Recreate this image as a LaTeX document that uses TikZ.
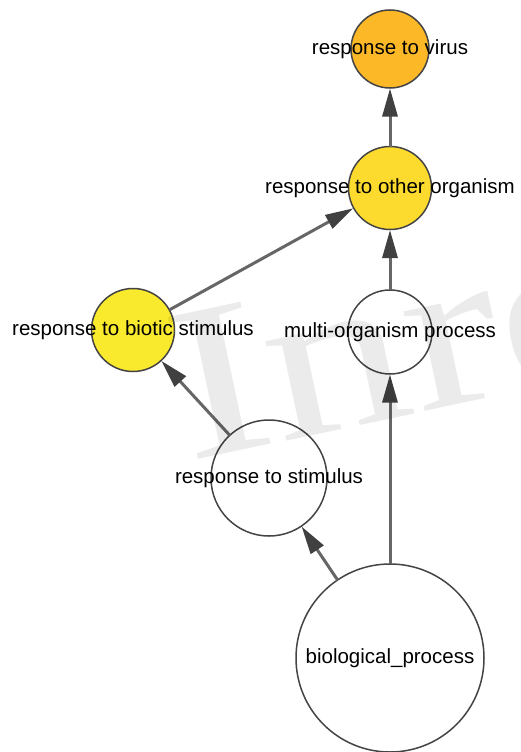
\documentclass[tikz,border=0pt]{standalone}
\usepackage{fontspec}
\usepackage{graphicx}
\setmainfont{Liberation Sans}
\newfontfamily\wmfont{Liberation Serif}
\usetikzlibrary{arrows.meta}
\definecolor{virusfill}{RGB}{253,184,40}
\definecolor{otherfill}{RGB}{253,218,46}
\definecolor{bioticfill}{RGB}{250,234,45}
\definecolor{ringcol}{RGB}{68,68,68}
\definecolor{edgecol}{RGB}{102,102,102}
\definecolor{tipcol}{RGB}{64,64,64}
\tikzset{
  term/.style={circle, draw=ringcol, line width=1.5pt, inner sep=0pt, outer sep=0pt},
  lbl/.style={font=\fontsize{20.5}{24}\selectfont, text=black, inner sep=0pt},
  isa/.style={draw=edgecol, line width=3pt, -{Triangle[length=28pt,width=15pt,color=tipcol]}, shorten >=0.5pt},
  watermark/.style={anchor=base west, rotate=12, text=black, text opacity=0.08, inner sep=0pt,
      font=\wmfont\fontsize{270}{270}\selectfont},
}
\begin{document}
\begin{tikzpicture}[x=1pt,y=-1pt]
\useasboundingbox (0,0) rectangle (520,752);
\clip (0,0) rectangle (520,752);
\fill[white] (0,0) rectangle (520,752);
% terms
\node[term, fill=virusfill, minimum size=78pt] (v) at (390,49) {};
\node[term, fill=otherfill, minimum size=83pt] (o) at (390,188) {};
\node[term, fill=bioticfill, minimum size=83pt] (b) at (133,330) {};
\node[term, fill=white, minimum size=84pt] (m) at (390,332) {};
\node[term, fill=white, minimum size=116pt] (s) at (269,478) {};
\node[term, fill=white, minimum size=188pt] (p) at (390,658) {};
% edges
\draw[isa] (o) -- (v);
\draw[isa] (b) -- (o);
\draw[isa] (m) -- (o);
\draw[isa] (s) -- (b);
\draw[isa] (p) -- (s);
\draw[isa] (p) -- (m);
% labels
\node[lbl] (vl) at (v) {response to virus};
\node[lbl] (ol) at (o) {response to other organism};
\node[lbl] (bl) at (b) {response to biotic stimulus};
\node[lbl] (ml) at (m) {multi-organism process};
\node[lbl] (sl) at (s) {response to stimulus};
\node[lbl] (pl) at (p) {biological\_process};
% watermark, laid over everything
\node[watermark] (wm) at (188,462) {\scalebox{1.05}[0.82]{Inre}};
\end{tikzpicture}
\end{document}
